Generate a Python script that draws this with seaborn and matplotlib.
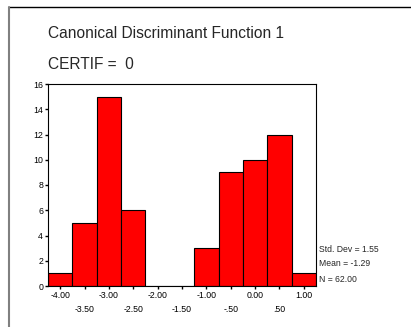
import numpy as np
import matplotlib
matplotlib.use("Agg")
import matplotlib.pyplot as plt
import seaborn as sns
from matplotlib.lines import Line2D

# ---- data ----
bin_centers = [-4.0, -3.5, -3.0, -2.5, -2.0, -1.5, -1.0, -0.5, 0.0, 0.5, 1.0]
counts = [1, 5, 15, 6, 0, 0, 3, 9, 10, 12, 1]
major_ticks = [-4.0, -3.0, -2.0, -1.0, 0.0, 1.0]
major_labels = ['-4.00', '-3.00', '-2.00', '-1.00', '0.00', '1.00']
minor_ticks = [-3.5, -2.5, -1.5, -0.5, 0.5]
minor_labels = ['-3.50', '-2.50', '-1.50', '-.50', '.50']
y_ticks = [0, 2, 4, 6, 8, 10, 12, 14, 16]
stats_lines = ['Std. Dev = 1.55', 'Mean = -1.29', 'N = 62.00']
title = 'Canonical Discriminant Function 1'
subtitle = 'CERTIF =  0'

sns.set_style("white")
plt.rcParams['font.family'] = ['Liberation Sans', 'DejaVu Sans']

W, H = 411, 327
fig = plt.figure(figsize=(W / 100, H / 100), dpi=100)
fig.patch.set_facecolor('white')

# outer frame (top black, left gray)
fig.add_artist(Line2D([8.5 / W, 1.0], [1 - 7 / H, 1 - 7 / H], color='black', lw=1.0))
fig.add_artist(Line2D([8.5 / W, 8.5 / W], [0.0, 1 - 7 / H], color='#808080', lw=1.5))

ax = fig.add_axes([48 / W, 1 - 286 / H, 268 / W, 202 / H])

half = 0.25
edges = [c - half for c in bin_centers] + [bin_centers[-1] + half]
sns.histplot(x=bin_centers, weights=counts, bins=edges, color='#ff0000',
             edgecolor='black', linewidth=0.8, alpha=1, ax=ax)

ax.set_xlim(edges[0], edges[-1])
ax.set_ylim(0, 16)
ax.set_xlabel('')
ax.set_ylabel('')
ax.set_yticks(y_ticks)
ax.set_yticklabels([str(v) for v in y_ticks])
ax.set_xticks(major_ticks)
ax.set_xticklabels(major_labels)
ax.set_xticks(minor_ticks, minor=True)
ax.set_xticklabels(minor_labels, minor=True)

for s in ax.spines.values():
    s.set_color('black')
    s.set_linewidth(0.8)

ax.tick_params(axis='x', which='major', direction='out', length=2, width=1,
               pad=1.5, labelsize=6.3, bottom=True, colors='black')
ax.tick_params(axis='x', which='minor', direction='out', length=2, width=1,
               pad=12, labelsize=6.3, bottom=True, colors='black')
ax.tick_params(axis='y', direction='out', length=2, width=1, pad=1.5,
               labelsize=6.3, left=True, colors='black')

fig.text(48 / W, 1 - 38.3 / H, title, fontsize=11.2, va='baseline', ha='left')
fig.text(48 / W, 1 - 69.3 / H, subtitle, fontsize=11.2, va='baseline', ha='left')

for txt, yc in zip(stats_lines, [249, 263, 279]):
    fig.text(319 / W, 1 - yc / H, txt, fontsize=6.2, va='center', ha='left')

fig.savefig('out.png', dpi=100)
